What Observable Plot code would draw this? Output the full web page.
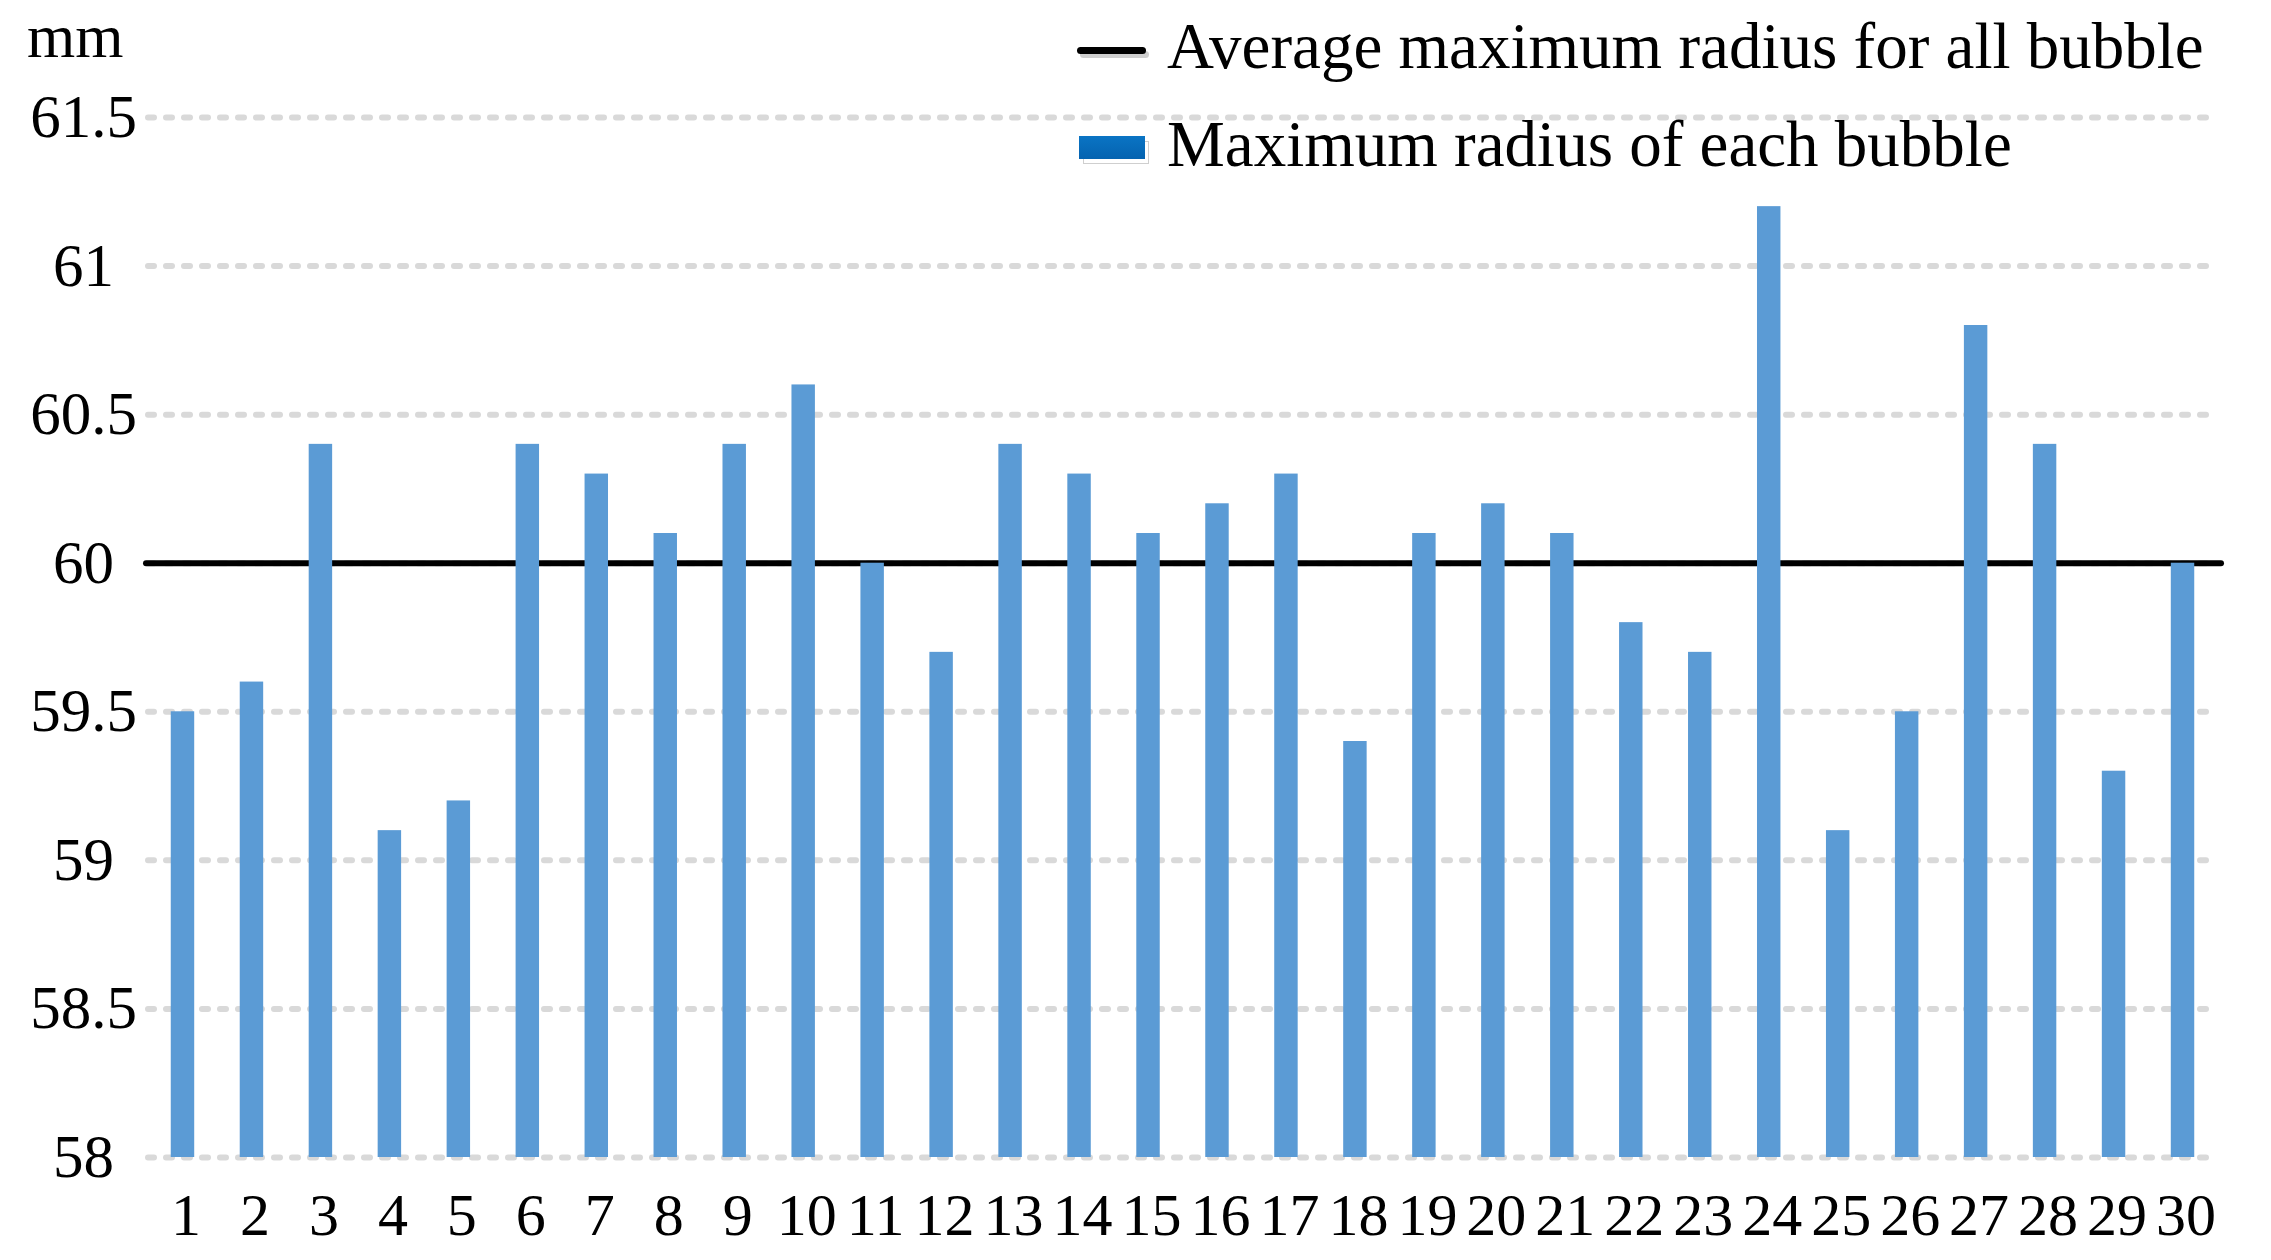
<!DOCTYPE html>
<html>
<head>
<meta charset="utf-8">
<script src="https://cdn.jsdelivr.net/npm/d3@7"></script>
<script src="https://cdn.jsdelivr.net/npm/@observablehq/plot@0.6"></script>
<style>
  html, body { margin: 0; padding: 0; background: #fff; }
  #wrap { position: relative; width: 2271px; height: 1260px; font-family: 'Liberation Serif', 'Times New Roman', serif; color: #000; }
  #wrap svg { position: absolute; left: 0; top: 0; }
  .ov { position: absolute; white-space: nowrap; line-height: 1; }
  #unit { left: 27px; top: 5px; font-size: 62px; }
  .legtext { font-size: 65px; left: 1167px; }
  #lt1 { top: 14px; }
  #lt2 { top: 112px; }
  #legline { position: absolute; left: 1077px; top: 47px; width: 69px; height: 7px; background: #000; border-radius: 3.5px; box-shadow: 3px 4px 0 #cfcfcf; }
  #legsq { position: absolute; left: 1079px; top: 136px; width: 66px; height: 23px; background: linear-gradient(#0a74c4, #0563b0); box-shadow: 4px 5px 0 -1px #fff, 4px 5px 0 0 #cfcfcf; }
</style>
</head>
<body>
<div id="wrap">
  <div id="chart"></div>
  <div class="ov" id="unit">mm</div>
  <div id="legline"></div>
  <div class="ov legtext" id="lt1">Average maximum radius for all bubble</div>
  <div id="legsq"></div>
  <div class="ov legtext" id="lt2">Maximum radius of each bubble</div>
</div>
<script>
// ---- data ----
const bubbles = ["1","2","3","4","5","6","7","8","9","10","11","12","13","14","15","16","17","18","19","20","21","22","23","24","25","26","27","28","29","30"];
const maxRadius = [59.5, 59.6, 60.4, 59.1, 59.2, 60.4, 60.3, 60.1, 60.4, 60.6, 60.0, 59.7, 60.4, 60.3, 60.1, 60.2, 60.3, 59.4, 60.1, 60.2, 60.1, 59.8, 59.7, 61.2, 59.1, 59.5, 60.8, 60.4, 59.3, 60.0];
const averageRadius = 60;
const yTicks = [58, 58.5, 59, 59.5, 60, 60.5, 61, 61.5];
const yTickLabels = ["58", "58.5", "59", "59.5", "60", "60.5", "61", "61.5"];
const yBase = 58;

const data = bubbles.map((b, i) => ({bubble: b, value: maxRadius[i]}));

const chart = Plot.plot({
  width: 2271,
  height: 1260,
  marginTop: 117,
  marginBottom: 103,
  marginLeft: 148,
  marginRight: 54,
  style: {fontFamily: "'Liberation Serif', 'Times New Roman', serif", fontSize: "61px", color: "#000", background: "transparent"},
  x: {type: "band", domain: bubbles, paddingInner: 0.66, paddingOuter: 0.33, round: false},
  y: {domain: [yTicks[0], yTicks[yTicks.length - 1]]},
  marks: [
    Plot.ruleY(yTicks, {stroke: "#D9D9D9", strokeWidth: 6, strokeDasharray: "6,12", strokeLinecap: "round"}),
    Plot.ruleY([averageRadius], {stroke: "#000", strokeWidth: 6, strokeLinecap: "round", insetLeft: -2, insetRight: -4}),
    Plot.barY(data, {x: "bubble", y1: yBase, y2: "value", fill: "#5B9BD5"}),
    Plot.axisY({ticks: yTicks, tickFormat: d => yTickLabels[yTicks.indexOf(d)], tickSize: 0, tickPadding: 0, dx: -65, textAnchor: "middle", fontSize: 61, label: null}),
    Plot.axisX({tickSize: 0, tickPadding: 35, dx: 3, fontSize: 60, label: null})
  ]
});
document.getElementById("chart").appendChild(chart);
</script>
</body>
</html>
